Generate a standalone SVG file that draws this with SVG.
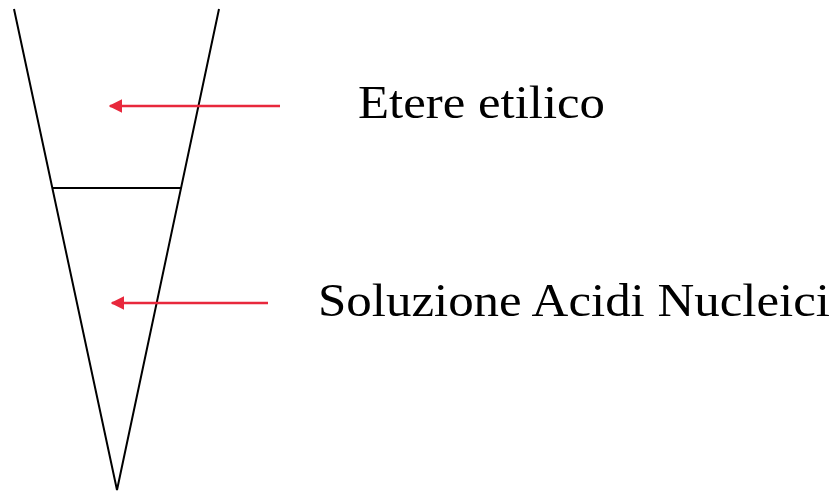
<svg xmlns="http://www.w3.org/2000/svg" width="837" height="497" viewBox="0 0 837 497">
<style>
.tube{stroke:#000;stroke-width:2;fill:none}
.arr{stroke:#e8283c;stroke-width:2.5;fill:none;marker-end:url(#ah)}
.lbl{font-family:"Liberation Serif","Times New Roman",serif;font-size:46px;fill:#000}
</style>
<defs>
<marker id="ah" viewBox="0 0 10 10" refX="9" refY="5" markerWidth="5.5" markerHeight="5.5" orient="auto" markerUnits="strokeWidth">
<path d="M0,0 L10,5 L0,10 z" fill="#e8283c"/>
</marker>
</defs>
<rect width="837" height="497" fill="#fff"/>
<g id="tube">
<path class="tube" d="M14,9 L117,490 L219,9"/>
<line class="tube" x1="52" y1="188" x2="181" y2="188"/>
</g>
<g id="connectors">
<line class="arr" x1="280" y1="106" x2="110" y2="106"/>
<line class="arr" x1="268" y1="303" x2="112" y2="303"/>
</g>
<g id="label-etere">
<text class="lbl" x="358" y="118" textLength="247" lengthAdjust="spacingAndGlyphs">Etere etilico</text>
</g>
<g id="label-soluzione">
<text class="lbl" x="318" y="316" textLength="512" lengthAdjust="spacingAndGlyphs">Soluzione Acidi Nucleici</text>
</g>
</svg>
